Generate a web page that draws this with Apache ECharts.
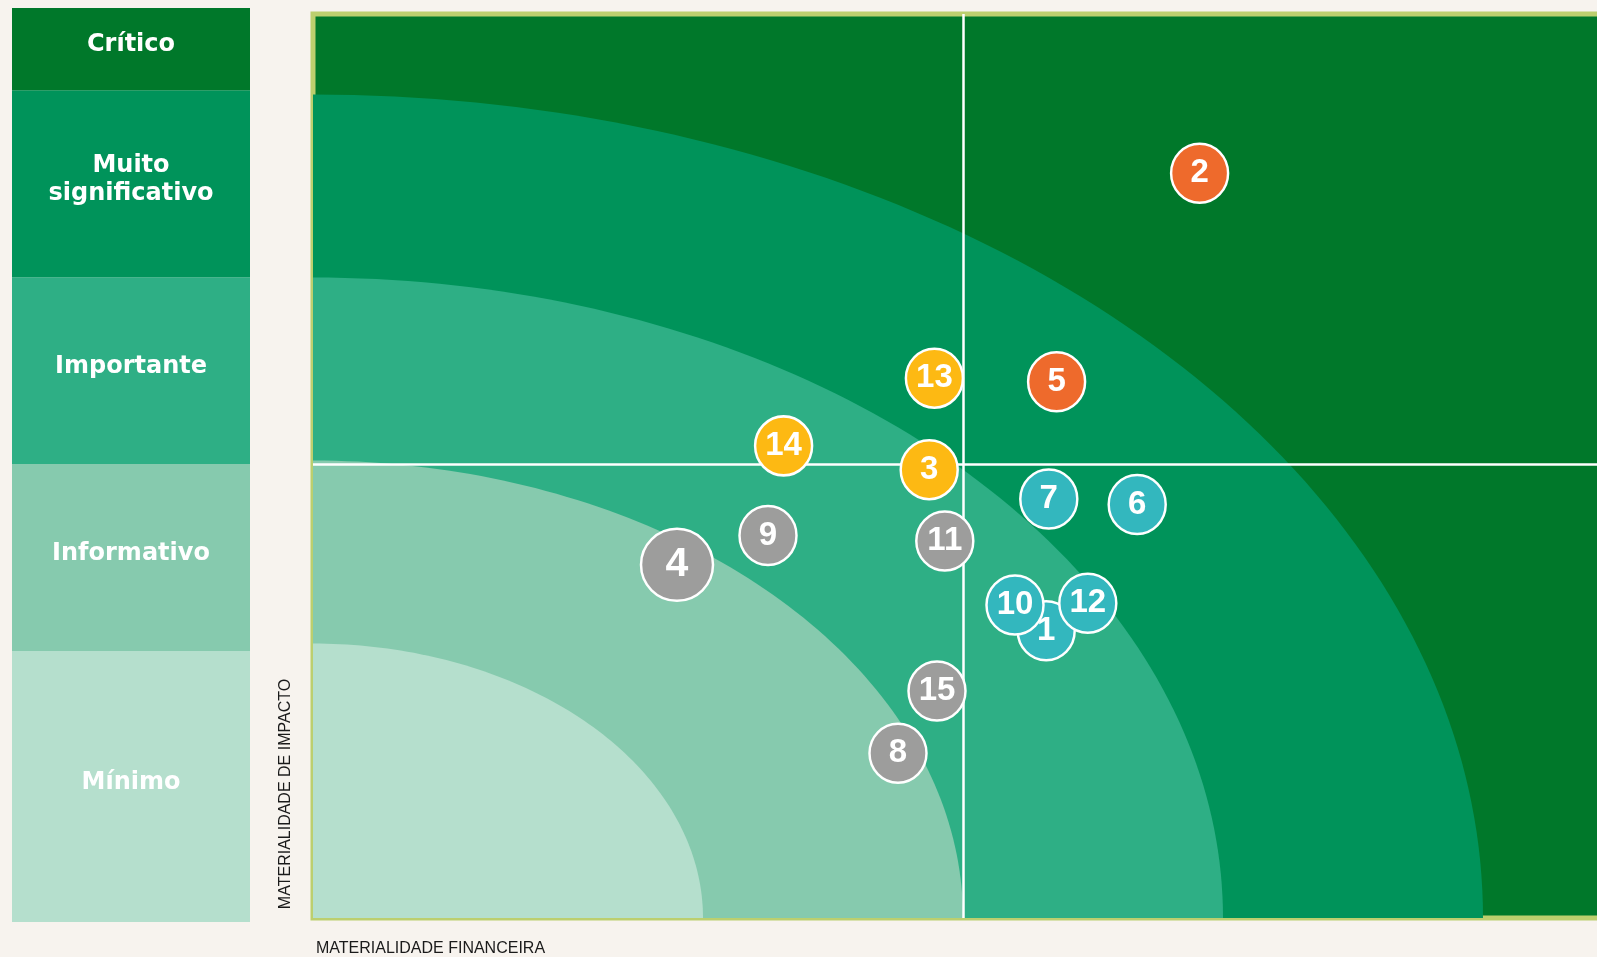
<!DOCTYPE html>
<html>
<head>
<meta charset="utf-8">
<title>Matriz de materialidade</title>
<script src="https://cdn.jsdelivr.net/npm/echarts@6/dist/echarts.min.js"></script>
</head>
<body style="margin:0;background:#f7f3ee">
<div id="container" style="width:1597px;height:957px"></div>
<script>
// scale on the left, bottom to top
const levelNames = ['Mínimo', 'Informativo', 'Importante', 'Muito\nsignificativo', 'Crítico'];
const levelSpans = [1.45, 1, 1, 1, 0.44];
// quarter-circle bands of the matrix, outermost first
const bandRadii = [4.5, 3.5, 2.5, 1.5];
// quadrant split
const quadrantX = 2.5;
const quadrantY = 2.48;

// topics
const topicIds   = ['1', '2', '3', '4', '5', '6', '7', '8', '9', '10', '11', '12', '13', '14', '15'];
const financial  = [2.82, 3.41, 2.37, 1.40, 2.86, 3.17, 2.83, 2.25, 1.75, 2.70, 2.43, 2.98, 2.39, 1.81, 2.40];
const impact     = [1.57, 4.07, 2.45, 1.93, 2.93, 2.26, 2.29, 0.90, 2.09, 1.71, 2.06, 1.72, 2.95, 2.58, 1.24];
const topicGroup = ['teal', 'orange', 'yellow', 'gray', 'orange', 'teal', 'teal', 'gray', 'gray', 'teal', 'gray', 'teal', 'yellow', 'yellow', 'gray'];

// styles
const levelColors = ['#b5dfcd', '#86caae', '#2eaf85', '#00935a', '#00782a'];
const bandColors = ['#00935a', '#2eaf85', '#86caae', '#b5dfcd'];
const groupColors = {orange: '#ee6a2c', yellow: '#fdb913', teal: '#33b7be', gray: '#9d9d9c'};
const bigIds = ['4'];

let dom = document.getElementById('container');
let chart = echarts.init(dom);

// left scale as a stacked bar
let levelSeries = levelNames.map(function (name, i) {
    return {
        type: 'bar', name: name, stack: 'lv', xAxisIndex: 0, yAxisIndex: 0,
        barWidth: '100%', silent: true,
        data: [levelSpans[i]],
        itemStyle: {color: levelColors[i]},
        label: {
            show: true, position: 'inside', formatter: name, offset: [0, -4],
            color: '#fff', fontFamily: 'DejaVu Sans', fontWeight: 'bold', fontSize: 24, lineHeight: 28
        }
    };
});

let topicData = topicIds.map(function (id, i) {
    let big = bigIds.indexOf(id) >= 0;
    return {
        name: id,
        value: [financial[i], impact[i]],
        symbolSize: big ? [72, 72] : [57, 59],
        itemStyle: {color: groupColors[topicGroup[i]]},
        label: {fontSize: big ? 41 : 33}
    };
});

chart.setOption({
    animation: false,
    backgroundColor: '#f7f3ee',
    grid: [
        {left: 12, top: 8, width: 238, height: 914, outerBoundsMode: 'none'},
        {left: 313, top: 14, width: 1300, height: 904, show: true, outerBoundsMode: 'none',
         backgroundColor: '#00782a', borderColor: '#bccf6e', borderWidth: 5}
    ],
    xAxis: [
        {type: 'category', gridIndex: 0, data: ['n'], show: false},
        {type: 'value', gridIndex: 1, min: 0, max: 5, show: false, splitLine: {show: false}}
    ],
    yAxis: [
        {type: 'value', gridIndex: 0, min: 0, max: levelSpans.reduce(function (a, b) { return a + b; }, 0), show: false},
        {type: 'value', gridIndex: 1, min: 0, max: 4.94, show: false, splitLine: {show: false}}
    ],
    graphic: [
        {type: 'text', x: 316, y: 949,
         style: {text: 'MATERIALIDADE FINANCEIRA', fill: '#1a1a1a', font: '16px "Liberation Sans"', textVerticalAlign: 'middle'}},
        {type: 'text', x: 286, y: 794, rotation: Math.PI / 2,
         style: {text: 'MATERIALIDADE DE IMPACTO', fill: '#1a1a1a', font: '16px "Liberation Sans"', textAlign: 'center', textVerticalAlign: 'middle'}}
    ],
    series: levelSeries.concat([
        {
            type: 'custom', xAxisIndex: 1, yAxisIndex: 1, silent: true,
            data: bandRadii.map(function (r, i) { return [r, i]; }),
            renderItem: function (params, api) {
                let r = api.value(0);
                let pts = [api.coord([0, 0])];
                for (let k = 0; k <= 90; k++) {
                    let t = k * Math.PI / 180;
                    pts.push(api.coord([r * Math.cos(t), r * Math.sin(t)]));
                }
                return {type: 'polygon', shape: {points: pts},
                        style: {fill: bandColors[api.value(1)]}};
            },
            markLine: {
                silent: true, symbol: 'none', label: {show: false},
                lineStyle: {color: '#ffffff', width: 2.5, type: 'solid'},
                data: [{xAxis: quadrantX}, {yAxis: quadrantY}]
            },
            z: 2
        },
        {
            type: 'scatter', xAxisIndex: 1, yAxisIndex: 1, z: 5,
            data: topicData,
            itemStyle: {borderColor: '#ffffff', borderWidth: 2.5, opacity: 1},
            label: {
                show: true, position: 'inside', formatter: '{b}',
                color: '#ffffff', fontFamily: 'Liberation Sans', fontWeight: 'bold'
            }
        }
    ])
}, true);
</script>
</body>
</html>
